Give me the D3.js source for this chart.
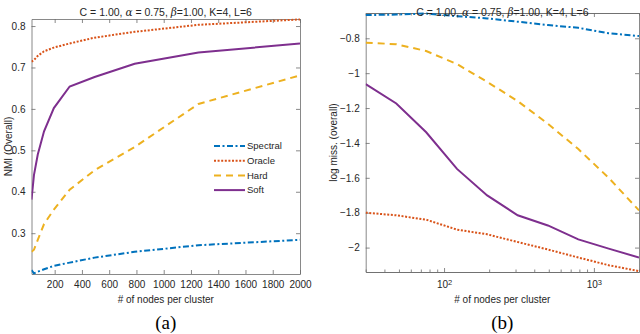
<!DOCTYPE html>
<html>
<head>
<meta charset="utf-8">
<script src="https://cdn.jsdelivr.net/npm/d3@7"></script>
<style>
  body { margin: 0; background: #fff; }
  svg { font-family: "Liberation Sans", Arial, sans-serif; }
  text { fill: #262626; }
  .axis path, .axis line { stroke: #6b6b6b; stroke-width: 0.8; }
  .axis text { font-size: 10px; fill: #262626; font-family: "Liberation Sans", Arial, sans-serif; }
</style>
</head>
<body>
<div id="chart"></div>
<script>
// number of nodes per cluster (log spaced)
const nodes = [30, 48, 76, 122, 194, 310, 493, 787, 1255, 2000];

const seriesNames = ["Spectral", "Oracle", "Hard", "Soft"];

// (a) NMI
const nmiSpectral = [0.211, 0.203, 0.207, 0.213, 0.221, 0.229, 0.241, 0.255, 0.271, 0.284];
const nmiOracle = [0.714, 0.718, 0.728, 0.739, 0.748, 0.758, 0.772, 0.786, 0.803, 0.816];
const nmiHard = [0.255, 0.26, 0.284, 0.322, 0.357, 0.405, 0.452, 0.508, 0.612, 0.681];
const nmiSoft = [0.381, 0.44, 0.49, 0.546, 0.602, 0.654, 0.677, 0.709, 0.736, 0.758];

// (b) log miss
const missSpectral = [-0.667, -0.664, -0.658, -0.673, -0.686, -0.705, -0.724, -0.74, -0.771, -0.787];
const missOracle = [-1.8, -1.815, -1.84, -1.897, -1.924, -1.968, -2.011, -2.057, -2.101, -2.135];
const missHard = [-0.825, -0.834, -0.873, -0.948, -1.05, -1.16, -1.29, -1.435, -1.6, -1.787];
const missSoft = [-1.063, -1.174, -1.339, -1.549, -1.701, -1.815, -1.873, -1.953, -2.006, -2.057];

const nmiTicks = [0.3, 0.4, 0.5, 0.6, 0.7, 0.8];
const nodeTicksLin = [200, 400, 600, 800, 1000, 1200, 1400, 1600, 1800, 2000];
const missTicks = [-2, -1.8, -1.6, -1.4, -1.2, -1, -0.8];
const nodeTicksLog = [100, 1000];
const nodeTicksLogMinor = [30, 40, 50, 60, 70, 80, 90, 200, 300, 400, 500, 600, 700, 800, 900, 2000];

const colors = ["#0072BD", "#D95319", "#EDB120", "#7E2F8E"];
const dashes = ["6,2.5,2,2.5", "2,1.6", "7,5", null];

const W = 640, H = 334;
const svg = d3.select("#chart").append("svg").attr("width", W).attr("height", H);

function drawPanel(o) {
  const g = svg.append("g");
  const x = o.log ? d3.scaleLog() : d3.scaleLinear();
  x.domain(o.xDomain).range([o.left, o.right]);
  const y = d3.scaleLinear().domain(o.yDomain).range([o.bottom, o.top]);

  // box + ticks, all pointing inward
  const bx = g.append("g").attr("class", "axis").attr("transform", `translate(0,${o.bottom})`)
    .call(d3.axisBottom(x).tickValues(o.xTicks).tickSizeInner(-4).tickSizeOuter(0).tickPadding(7)
      .tickFormat(o.log ? () => "" : d3.format("d")));
  g.append("g").attr("class", "axis").attr("transform", `translate(0,${o.top})`)
    .call(d3.axisTop(x).tickValues(o.xTicks).tickSizeInner(-4).tickSizeOuter(0).tickFormat(""));
  g.append("g").attr("class", "axis").attr("transform", `translate(${o.left},0)`)
    .call(d3.axisLeft(y).tickValues(o.yTicks).tickSizeInner(-4).tickSizeOuter(0).tickPadding(6)
      .tickFormat(d3.format("")));
  g.append("g").attr("class", "axis").attr("transform", `translate(${o.right},0)`)
    .call(d3.axisRight(y).tickValues(o.yTicks).tickSizeInner(-4).tickSizeOuter(0).tickFormat(""));

  if (o.log) {
    g.append("g").attr("class", "axis").attr("transform", `translate(0,${o.bottom})`)
      .call(d3.axisBottom(x).tickValues(o.xMinor).tickSizeInner(-2.5).tickSizeOuter(0).tickFormat(""));
    g.append("g").attr("class", "axis").attr("transform", `translate(0,${o.top})`)
      .call(d3.axisTop(x).tickValues(o.xMinor).tickSizeInner(-2.5).tickSizeOuter(0).tickFormat(""));
    bx.selectAll(".tick text").each(function (d) {
      const t = d3.select(this).attr("dy", "0.9em");
      t.append("tspan").text("10");
      t.append("tspan").attr("dy", "-0.45em").style("font-size", "7.5px").text(Math.round(Math.log10(d)));
    });
  }

  // lines
  const clip = "clip-" + o.id;
  g.append("clipPath").attr("id", clip).append("rect")
    .attr("x", o.left).attr("y", o.top - 2).attr("width", o.right - o.left).attr("height", o.bottom - o.top + 4);
  const line = d3.line().x((d, i) => x(nodes[i])).y((d) => y(d));
  const lg = g.append("g").attr("clip-path", `url(#${clip})`);
  o.series.forEach((s, i) => {
    lg.append("path").datum(s)
      .attr("d", line)
      .attr("fill", "none")
      .attr("stroke", colors[i])
      .attr("stroke-width", 2)
      .attr("stroke-dasharray", dashes[i]);
  });

  // title
  const cx = (o.left + o.right) / 2;
  const title = g.append("text").attr("x", cx).attr("y", 15.5).attr("text-anchor", "middle").style("font-size", "10.5px");
  title.append("tspan").text("C = 1.00, ");
  title.append("tspan").style("font-family", "'DejaVu Serif', serif").style("font-style", "italic").text("α");
  title.append("tspan").text(" = 0.75, ");
  title.append("tspan").style("font-family", "'DejaVu Serif', serif").style("font-style", "italic").text("β");
  title.append("tspan").text("=1.00, K=4, L=6");

  // axis labels
  g.append("text").attr("x", cx).attr("y", 303).attr("text-anchor", "middle").style("font-size", "10px")
    .text("# of nodes per cluster");
  g.append("text").attr("transform", `translate(${o.ylabX},${(o.top + o.bottom) / 2}) rotate(-90)`)
    .attr("text-anchor", "middle").style("font-size", "10px").text(o.ylab);

  // caption
  g.append("text").attr("x", cx).attr("y", 329).attr("text-anchor", "middle")
    .style("font-family", "'Liberation Serif', 'DejaVu Serif', serif").style("font-size", "19px").style("fill", "#000")
    .text(o.caption);

  return { g, x, y };
}

const a = drawPanel({
  id: "a", left: 31.5, right: 300, top: 19, bottom: 274,
  xDomain: [30, 2000], yDomain: [0.2015, 0.817],
  xTicks: nodeTicksLin, yTicks: nmiTicks,
  series: [nmiSpectral, nmiOracle, nmiHard, nmiSoft],
  ylab: "NMI (Overall)", ylabX: 12, caption: "(a)"
});

drawPanel({
  id: "b", left: 365.7, right: 639, top: 13, bottom: 272, log: true,
  xDomain: [30, 2000], yDomain: [-2.14, -0.655],
  xTicks: nodeTicksLog, xMinor: nodeTicksLogMinor, yTicks: missTicks,
  series: [missSpectral, missOracle, missHard, missSoft],
  ylab: "log miss. (overall)", ylabX: 337, caption: "(b)"
});

// legend (panel a)
const leg = a.g.append("g");
seriesNames.forEach((name, i) => {
  const yy = 146 + i * 14.7;
  leg.append("line").attr("x1", 214).attr("x2", 245).attr("y1", yy).attr("y2", yy)
    .attr("stroke", colors[i]).attr("stroke-width", 2).attr("stroke-dasharray", dashes[i]);
  leg.append("text").attr("x", 247).attr("y", yy).attr("dy", "0.35em").style("font-size", "9.5px").text(name);
});
</script>
</body>
</html>
